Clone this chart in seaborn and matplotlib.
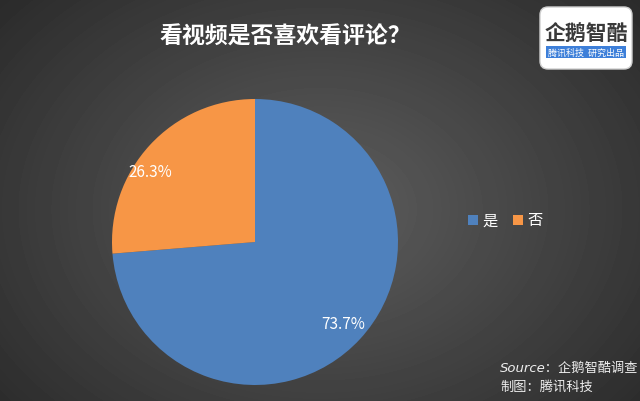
import numpy as np
import matplotlib
matplotlib.use("Agg")
import matplotlib.pyplot as plt
import seaborn as sns
from matplotlib.patches import FancyBboxPatch

sns.set_theme(style="white")
plt.rcParams['font.family'] = ['Noto Sans CJK SC', 'DejaVu Sans']

# data
title = "看视频是否喜欢看评论？"
labels = ["是", "否"]
shares = [73.7, 26.3]
colors = ["#4f81bd", "#f79646"]

fig = plt.figure(figsize=(6.4, 4.02), dpi=100)

# radial gradient background
bg = fig.add_axes([0, 0, 1, 1])
yy, xx = np.mgrid[0:402, 0:640]
d = np.sqrt(((xx - 320) / 400.0) ** 2 + ((yy - 210) / 300.0) ** 2)
shade = np.clip(0.37 - 0.19 * d, 0.14, 0.37)
bg.imshow(shade, cmap="gray", vmin=0, vmax=1, aspect="auto", extent=[0, 640, 402, 0])
bg.set_xlim(0, 640)
bg.set_ylim(402, 0)
bg.axis("off")

# pie
ax = fig.add_axes([112 / 640, (402 - 243 - 143) / 402, 286 / 640, 286 / 402])
wedges, texts, autotexts = ax.pie(
    shares, colors=colors, startangle=90, counterclock=False,
    autopct="%.1f%%", pctdistance=0.84, radius=1,
    wedgeprops=dict(linewidth=0),
    textprops=dict(color="white", fontsize=11),
)
autotexts[1].set_position((-0.73, 0.49))
ax.set_xlim(-1, 1)
ax.set_ylim(-1, 1)
ax.set_aspect("equal")
ax.axis("off")

# title
fig.text(285 / 640, 1 - 37 / 402, title, color="white", fontsize=16.5,
         fontweight="bold", ha="center", va="center")

# legend
leg_x = [473, 518]
for lx, lab, c in zip(leg_x, labels, colors):
    bg.add_patch(plt.Rectangle((lx - 5, 216), 10, 10, color=c, lw=0))
    bg.text(lx + 9, 221, lab, color="white", fontsize=11, va="center", ha="left")

# source
src_font = ['DejaVu Sans', 'Noto Sans CJK SC']
bg.text(500, 368, "Source：企鹅智酷调查", color="#eeeeee", fontsize=9.5,
        style="italic", family=src_font, va="center", ha="left")
bg.text(500, 387, "制图：腾讯科技", color="#eeeeee", fontsize=9.5,
        style="italic", family=src_font, va="center", ha="left")

# logo
bg.add_patch(FancyBboxPatch((540, 8), 92, 62, boxstyle="round,pad=0,rounding_size=8",
                            fc="white", ec="#cfcfcf", lw=1))
bg.text(586, 33, "企鹅智酷", color="#3a3a3a", fontsize=15, fontweight="bold",
        ha="center", va="center")
bg.add_patch(plt.Rectangle((546, 47), 80, 12, color="#3d7fd9", lw=0))
bg.text(586, 53, "腾讯科技  研究出品", color="white", fontsize=6.5,
        ha="center", va="center")

fig.savefig("out.png", dpi=100)
